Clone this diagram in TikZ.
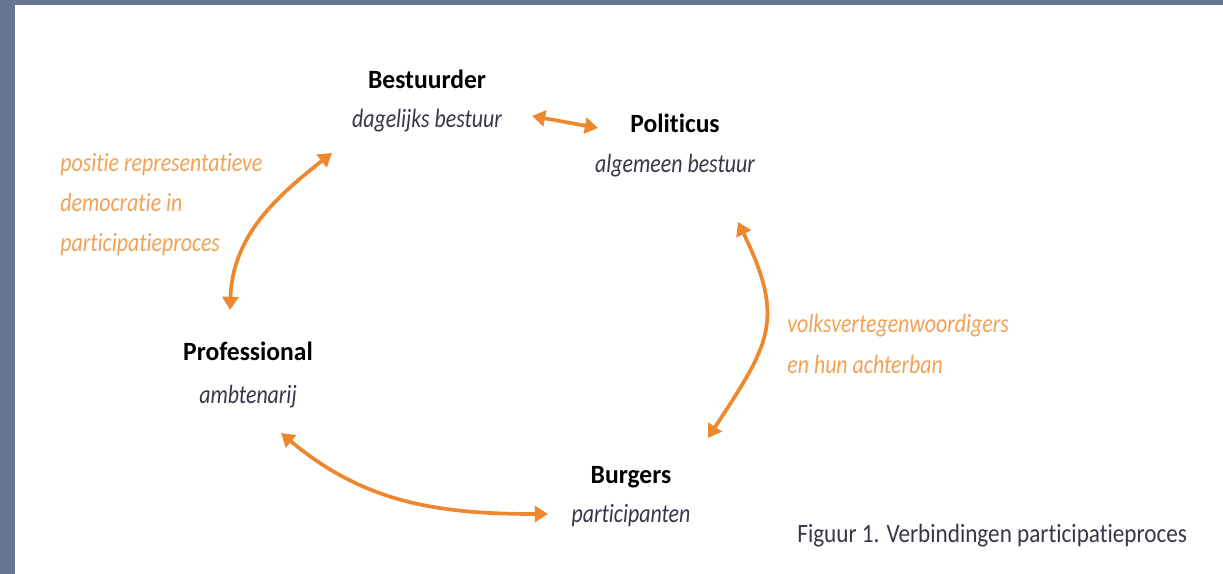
\documentclass[tikz,border=0pt]{standalone}
\usepackage{fontspec}
\setmainfont{Carlito}[RawFeature=-liga]
\newfontfamily\kopfont{Carlito}[FakeStretch=0.97,RawFeature=-liga]
\newfontfamily\rolfont{Carlito}[FakeStretch=0.83,RawFeature=-liga]
\newfontfamily\bijschriftfont{Carlito}[FakeStretch=0.88,RawFeature=-liga]
\usetikzlibrary{arrows.meta}
\definecolor{oranje}{RGB}{238,136,46}
\definecolor{lichtoranje}{RGB}{241,162,86}
\definecolor{rand}{RGB}{103,119,145}
\definecolor{rolgrijs}{RGB}{55,55,72}

\begin{document}
\begin{tikzpicture}[x=0.02cm,y=0.02cm,
    kop/.style={anchor=base,inner sep=0pt,font=\kopfont\bfseries\fontsize{15}{18}\selectfont,text=black},
    rol/.style={anchor=base,inner sep=0pt,font=\rolfont\itshape\fontsize{15}{18}\selectfont,text=rolgrijs},
    toelichting/.style={anchor=base west,inner sep=0pt,align=left,font=\rolfont\itshape\fontsize{15}{23}\selectfont,text=lichtoranje},
    pijl/.style={<->,>={Triangle[length=7.5pt,width=9pt]},line width=2.1pt,draw=oranje}]

      \fill[rand] (0,0) rectangle (1223,-574);
      \fill[white] (15,-5) rectangle (1223,-574);
      \useasboundingbox (0,0) rectangle (1223,-574);

      \node[kop] (bestuurder) at (427,-89) {Bestuurder};
      \node[rol] (bestuurderrol) at (427,-128) {dagelijks bestuur};
      \node[kop] (politicus) at (675,-133) {Politicus};
      \node[rol] (politicusrol) at (675,-173) {algemeen bestuur};
      \node[kop] (professional) at (248,-360) {Professional};
      \node[rol] (professionalrol) at (248,-403) {ambtenarij};
      \node[kop] (burgers) at (631,-483) {Burgers};
      \node[rol] (burgersrol) at (631,-522) {participanten};

      \node[toelichting] (positie) at (60,-252)
      {positie representatieve\\democratie in\\participatieproces};
      \node[toelichting] (volks) at (787,-373)
      {volksvertegenwoordigers\\en hun achterban};

      \node[anchor=base west,inner sep=0pt,text=rolgrijs,
      font=\bijschriftfont\fontsize{15}{18}\selectfont] (bijschrift) at (797,-542)
      {Figuur 1. Verbindingen participatieproces};

      \draw[pijl] ([shift={(105,12)}]bestuurderrol.base)
      -- ([shift={(-77,5)}]politicus.base);
      \draw[pijl] ([shift={(-95,-25)}]bestuurderrol.base)
      to[out=218,in=88] ([shift={(-18,50)}]professional.base);
      \draw[pijl] ([shift={(63,-49)}]politicusrol.base)
      to[out=-64,in=57,looseness=1.3] ([shift={(77,45)}]burgers.base);
      \draw[pijl] ([shift={(33,-30)}]professionalrol.base)
      to[out=-40,in=180] ([shift={(-83,8)}]burgersrol.base);

    \end{tikzpicture}
\end{document}
